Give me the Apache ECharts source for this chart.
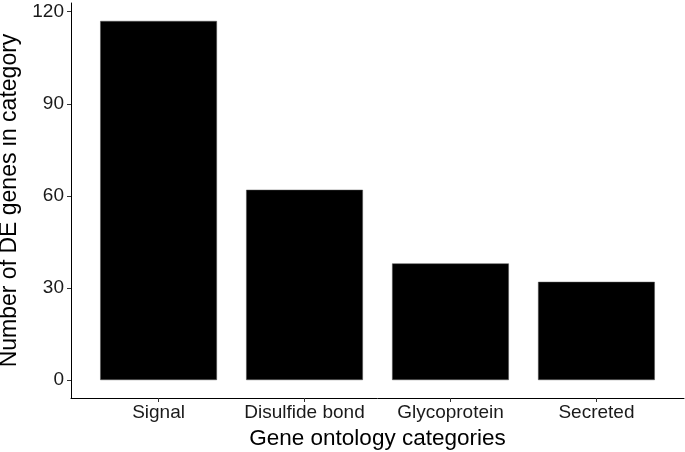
<!DOCTYPE html>
<html>
<head>
<meta charset="utf-8">
<script src="https://cdn.jsdelivr.net/npm/echarts@6/dist/echarts.min.js"></script>
<style>html,body{margin:0;padding:0;background:#fff}#c{width:685px;height:452px}</style>
</head>
<body>
<div id="c"></div>
<script>
const categories = ['Signal', 'Disulfide bond', 'Glycoprotein', 'Secreted'];
const counts = [117, 62, 38, 32];
const yTicks = [0, 30, 60, 90, 120];

const positions = categories.map((c, i) => i + 1);
const barData = counts.map((v, i) => [positions[i], v]);
const yMax = Math.max(...counts);
const yPad = yMax * 0.05;

const chart = echarts.init(document.getElementById('c'), null, {renderer: 'canvas'});
const font = 'Liberation Sans, Arial, sans-serif';
chart.setOption({
  animation: false,
  backgroundColor: '#ffffff',
  grid: {left: 71, right: 1, top: 3, bottom: 54, containLabel: false, outerBoundsMode: 'none'},
  xAxis: {
    type: 'value',
    min: 0.4,
    max: categories.length + 0.6,
    name: 'Gene ontology categories',
    nameLocation: 'middle',
    nameGap: 28,
    nameTextStyle: {fontFamily: font, fontSize: 22.5, color: '#000'},
    axisLine: {show: true, onZero: false, lineStyle: {color: '#000', width: 1}},
    axisTick: {show: true, length: 4, lineStyle: {color: '#333'}, customValues: positions},
    axisLabel: {
      customValues: positions,
      margin: 5,
      fontFamily: font, fontSize: 19, color: '#1a1a1a',
      formatter: v => categories[Math.round(v) - 1] || ''
    },
    splitLine: {show: false}
  },
  yAxis: {
    type: 'value',
    min: -yPad,
    max: yMax + yPad,
    name: 'Number of DE genes in category',
    nameLocation: 'middle',
    nameGap: 47,
    nameTextStyle: {fontFamily: font, fontSize: 23, color: '#000'},
    axisLine: {show: true, onZero: false, lineStyle: {color: '#000', width: 1}},
    axisTick: {show: true, length: 4, lineStyle: {color: '#333'}, customValues: yTicks},
    axisLabel: {customValues: yTicks, margin: 7, fontFamily: font, fontSize: 19, color: '#1a1a1a'},
    splitLine: {show: false}
  },
  series: [{
    type: 'bar',
    data: barData,
    barWidth: '80%',
    itemStyle: {color: '#000', borderColor: '#555', borderWidth: 0.5}
  }]
});
</script>
</body>
</html>
